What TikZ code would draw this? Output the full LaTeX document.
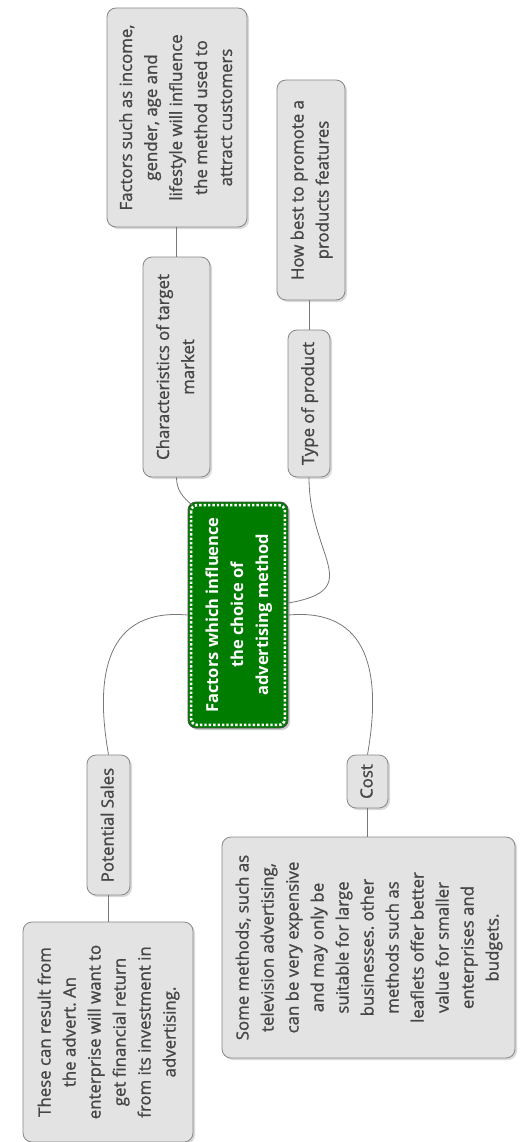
\documentclass[tikz,border=0pt]{standalone}
\usepackage{fontspec}
\usepackage{graphicx}
\setmainfont{Open Sans}[UprightFeatures={FakeBold=1.2}]
\frenchspacing
\usetikzlibrary{shadows}
\definecolor{boxgray}{RGB}{227,227,227}
\definecolor{edgegray}{RGB}{135,135,135}
\definecolor{txtgray}{RGB}{70,70,70}
\definecolor{linkgray}{RGB}{120,120,120}
\definecolor{mapgreen}{RGB}{0,125,0}
\newcommand{\vlines}[1]{\rotatebox{90}{\begin{tabular}{@{}c@{}}#1\end{tabular}}}
\tikzset{
  topic/.style={draw=edgegray, fill=boxgray, line width=0.8pt, rounded corners=9pt,
    inner sep=0pt, text=txtgray, font=\fontsize{16.8}{25}\selectfont,
    drop shadow={opacity=0.3, shadow xshift=2pt, shadow yshift=-2pt}},
  root/.style={draw=black!70, fill=mapgreen, line width=0.8pt, rounded corners=8pt,
    inner sep=0pt, text=white, font=\fontsize{16.5}{25}\selectfont\bfseries,
    drop shadow={opacity=0.4, shadow xshift=2pt, shadow yshift=-2pt}},
  link/.style={draw=linkgray, line width=0.8pt}
}
\begin{document}
\begin{tikzpicture}[x=1pt,y=1pt]
\useasboundingbox (0,0) rectangle (521,-1142);
\node [topic, minimum width=140, minimum height=219] (tdesc) at (177,-117.5)
  {\vlines{Factors such as income,\\ gender, age and\\ lifestyle will influence\\ the method used to\\ attract customers}};
\node [topic, minimum width=68, minimum height=220] (how) at (311,-190)
  {\vlines{How best to promote a\\ products features}};
\node [topic, minimum width=67, minimum height=220] (char) at (176.5,-367)
  {\vlines{Characteristics of target\\ market}};
\node [topic, minimum width=42, minimum height=147] (type) at (309,-403.5)
  {\vlines{Type of product}};
\node [root, minimum width=100, minimum height=226] (cen) at (238,-615)
  {\vlines{Factors which influence\\ the choice of\\ advertising method}};
\draw [white, line width=2.6pt, dash pattern=on 2.4pt off 2pt, rounded corners=6pt]
  ([shift={(3.5pt,-3.5pt)}]cen.north west) rectangle ([shift={(-3.5pt,3.5pt)}]cen.south east);
\node [topic, minimum width=43, minimum height=140] (pot) at (108.5,-825)
  {\vlines{Potential Sales}};
\node [topic, minimum width=41, minimum height=53] (cost) at (367.5,-781.5)
  {\vlines{Cost}};
\node [topic, minimum width=293, minimum height=221] (cdesc) at (368.5,-947.5)
  {\vlines{Some methods, such as\\ television advertising,\\ can be very expensive\\ and may only be\\ suitable for large\\ businesses. other\\ methods such as\\ leaflets offer better\\ value for smaller\\ enterprises and\\ budgets.}};
\node [topic, minimum width=170, minimum height=220] (pdesc) at (108,-1032)
  {\vlines{These can result from\\ the advert. An\\ enterprise will want to\\ get financial return\\ from its investment in\\ advertising.}};
\draw [link] (char.north) -- (char.north |- tdesc.south);
\draw [link] (type.north) -- (type.north |- how.south);
\draw [link] (pot.south) -- (pot.south |- pdesc.north);
\draw [link] (cost.south) -- (cost.south |- cdesc.north);
\draw [link] (char.south) to[out=-90,in=140] ([shift={(4pt,-3pt)}]cen.north west);
\draw [link] ([yshift=12pt]cen.east) to[out=10,in=-90,looseness=1.6] (type.south);
\draw [link] (cen.west) to[out=175,in=100,looseness=1.3] (pot.north);
\draw [link] (cen.east) to[out=5,in=80,looseness=1.3] (cost.north);
\end{tikzpicture}
\end{document}
